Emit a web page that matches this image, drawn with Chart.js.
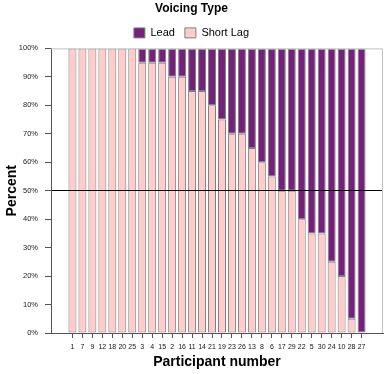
<!DOCTYPE html>
<html>
<head>
<meta charset="utf-8">
<script src="https://cdn.jsdelivr.net/npm/chart.js@4.4.0/dist/chart.umd.min.js"></script>
<style>
  html, body { margin: 0; padding: 0; background: #fff; }
  #wrap { width: 385px; height: 374px; }
</style>
</head>
<body>
<div id="wrap"><canvas id="voicingChart" width="385" height="374"></canvas></div>
<script>
// Participants in the order shown on the x axis
const participants = ['1', '7', '9', '12', '18', '20', '25', '3', '4', '15', '2', '16', '11', '14', '21',
                      '19', '23', '26', '13', '8', '6', '17', '29', '22', '5', '30', '24', '10', '28', '27'];

// Percent of tokens per voicing type
const shortLag = [100, 100, 100, 100, 100, 100, 100, 95, 95, 95, 90, 90, 85, 85, 80,
                  75, 70, 70, 65, 60, 55, 50, 50, 40, 35, 35, 25, 20, 5, 0];
const lead = [0, 0, 0, 0, 0, 0, 0, 5, 5, 5, 10, 10, 15, 15, 20,
              25, 30, 30, 35, 40, 45, 50, 50, 60, 65, 65, 75, 80, 95, 100];

const yTicks = [0, 10, 20, 30, 40, 50, 60, 70, 80, 90, 100];

const FONT = 'Arial, "Liberation Sans", sans-serif';
const LEAD_COLOR = '#74217a';
const SHORT_LAG_COLOR = '#ffcccc';
const BAR_BORDER = '#7f7f7f';
const AXIS_COLOR = '#555555';

// light grey frame on the top and right of the plot area
const plotFrame = {
    id: 'plotFrame',
    afterDraw(chart) {
        const { ctx, chartArea: a } = chart;
        ctx.save();
        ctx.strokeStyle = '#c0c0c0';
        ctx.lineWidth = 1;
        ctx.beginPath();
        ctx.moveTo(a.left, a.top + 0.5);
        ctx.lineTo(a.right - 0.5, a.top + 0.5);
        ctx.lineTo(a.right - 0.5, a.bottom);
        ctx.stroke();
        ctx.restore();
    }
};

const toPoints = values => values.map((v, i) => ({ x: i, y: v }));

new Chart(document.getElementById('voicingChart'), {
    type: 'bar',
    data: {
        datasets: [
            {
                label: 'Short Lag',
                data: toPoints(shortLag),
                backgroundColor: SHORT_LAG_COLOR,
                borderColor: BAR_BORDER,
                borderWidth: 1,
                borderSkipped: false
            },
            {
                label: 'Lead',
                data: toPoints(lead),
                backgroundColor: LEAD_COLOR,
                borderColor: BAR_BORDER,
                borderWidth: 1,
                borderSkipped: false
            }
        ]
    },
    options: {
        responsive: false,
        animation: false,
        barPercentage: 0.8,
        categoryPercentage: 1,
        layout: { padding: { top: 0, right: 2, bottom: 0, left: 0 } },
        plugins: {
            title: {
                display: true,
                text: 'Voicing Type',
                color: '#000',
                font: { family: FONT, size: 12, weight: 'bold' },
                padding: { top: 1, bottom: 2 }
            },
            legend: {
                reverse: true,
                labels: {
                    color: '#000',
                    font: { family: FONT, size: 11 },
                    boxWidth: 11,
                    boxHeight: 10,
                    padding: 10
                }
            },
            tooltip: { enabled: false }
        },
        scales: {
            x: {
                type: 'linear',
                stacked: true,
                offset: false,
                min: -2.15,
                max: 31.15,
                afterBuildTicks: scale => {
                    scale.ticks = participants.map((_, i) => ({ value: i }));
                },
                afterFit: scale => { scale.height = 41; },
                ticks: {
                    autoSkip: false,
                    maxRotation: 0,
                    padding: 5,
                    color: '#111',
                    font: { family: FONT, size: 7 },
                    callback: value => participants[value]
                },
                grid: {
                    offset: false,
                    drawOnChartArea: false,
                    drawTicks: true,
                    tickLength: 5,
                    tickColor: AXIS_COLOR
                },
                border: { color: AXIS_COLOR },
                title: {
                    display: true,
                    text: 'Participant number',
                    color: '#000',
                    font: { family: FONT, size: 14, weight: 'bold' },
                    padding: { top: 0, bottom: 3 }
                }
            },
            y: {
                stacked: true,
                min: 0,
                max: 100,
                afterBuildTicks: scale => {
                    scale.ticks = yTicks.map(v => ({ value: v }));
                },
                afterFit: scale => { scale.width = 51; },
                ticks: {
                    padding: 7,
                    color: '#222',
                    font: { family: FONT, size: 7.5 },
                    callback: value => value + '%'
                },
                grid: {
                    z: 1, // the 50% reference line sits over the bars
                    color: ctx => (ctx.tick && ctx.tick.value === 50 ? '#000' : 'rgba(0,0,0,0)'),
                    tickColor: AXIS_COLOR,
                    tickLength: 6
                },
                // border must draw after the grid layer
                border: { color: AXIS_COLOR, z: 1 },
                title: {
                    display: true,
                    text: 'Percent',
                    color: '#000',
                    font: { family: FONT, size: 14, weight: 'bold' },
                    padding: { top: 4, bottom: 0 }
                }
            }
        }
    },
    plugins: [plotFrame]
});
</script>
</body>
</html>
